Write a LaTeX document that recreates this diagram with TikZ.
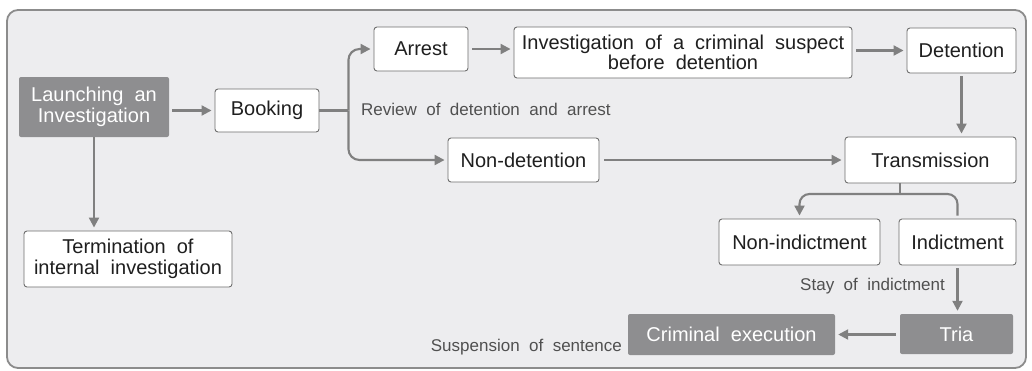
\documentclass[tikz,border=0pt]{standalone}
\usepackage{fontspec}
\setmainfont[WordSpace=2]{Liberation Sans}
\usetikzlibrary{arrows.meta}
\definecolor{framefill}{HTML}{EDEDEF}
\definecolor{framedraw}{HTML}{8C8C8C}
\definecolor{darkbox}{HTML}{8E8E90}
\definecolor{linegray}{HTML}{808080}
\definecolor{boxborder}{HTML}{6E6E6E}
\definecolor{labelgray}{HTML}{505050}
\tikzset{
  wbox/.style={draw=boxborder, line width=0.9pt, fill=white, rounded corners=3pt, align=center, inner sep=0pt, text=black!88,
    font=\fontsize{20}{20.5}\selectfont},
  dbox/.style={fill=darkbox, rounded corners=2pt, align=center, inner sep=0pt, text=white,
    font=\fontsize{20}{21}\selectfont},
  conn/.style={draw=linegray, line width=2.1pt},
  arr/.style={conn, -{Triangle[length=10pt,width=10pt]}, shorten >=3pt},
  lbl/.style={text=labelgray, inner sep=0pt, font=\fontsize{17}{19}\selectfont}
}
\begin{document}
\begin{tikzpicture}[x=1pt,y=-1pt]
\useasboundingbox (0,0) rectangle (1032,370);
\draw[draw=framedraw, fill=framefill, line width=1.8pt, rounded corners=11pt] (7,10) rectangle (1026,368);

\node[dbox, minimum width=150pt, minimum height=60pt] (launch) at (94,107) {Launching an\\Investigation};
\node[wbox, minimum width=104pt, minimum height=43pt] (booking) at (267,110.5) {Booking};
\node[wbox, minimum width=94pt, minimum height=44pt] (arrest) at (421,49) {Arrest};
\node[wbox, minimum width=338pt, minimum height=51pt] (invest) at (683,52.5) {Investigation of a criminal suspect\\before detention};
\node[wbox, minimum width=109pt, minimum height=45pt] (detention) at (961.5,50.5) {Detention};
\node[wbox, minimum width=151pt, minimum height=44pt] (nondet) at (523.5,160) {Non-detention};
\node[wbox, minimum width=171pt, minimum height=46pt] (trans) at (930.5,160) {Transmission};
\node[wbox, minimum width=161pt, minimum height=46pt] (nonind) at (799.5,242) {Non-indictment};
\node[wbox, minimum width=117pt, minimum height=46pt] (indict) at (957.5,242) {Indictment};
\node[dbox, minimum width=113pt, minimum height=40pt] (tria) at (956.5,334) {Tria};
\node[dbox, minimum width=207pt, minimum height=41pt] (crimexec) at (731.5,334.5) {Criminal execution};
\node[wbox, minimum width=208pt, minimum height=56pt] (term) at (128,259) {Termination of\\internal investigation};

\node[lbl, anchor=west] (review) at (361,109) {Review of detention and arrest};
\node[lbl, anchor=east] (stay) at (945,286) {Stay of indictment};
\node[lbl, anchor=base east] (susp) at (622,351) {Suspension of sentence};

% connectors
\draw[arr, shorten <=3pt] (launch.east |- booking.west) -- (booking.west);
\draw[conn] (booking.east) -- ++(29,0) coordinate (split);
\draw[arr, rounded corners=11pt] (split) |- (arrest.west);
\draw[arr, rounded corners=11pt] (split) |- (nondet.west);
\draw[arr, shorten <=4pt] (arrest.east) -- (invest.west |- arrest.east);
\draw[arr, shorten <=4pt] (invest.east |- detention.west) -- (detention.west);
\draw[arr, shorten <=3pt] (detention.south) -- (detention.south |- trans.north);
\draw[arr, shorten <=5pt] (nondet.east) -- (trans.west);
\coordinate (stem) at (900,194);
\draw[conn] (trans.south -| stem) -- (stem);
\draw[arr, rounded corners=10pt] (stem) -| (nonind.north);
\draw[conn, rounded corners=10pt, shorten >=3pt] (stem) -| (indict.north);
\draw[arr, shorten <=3pt] (indict.south) -- (indict.south |- tria.north);
\draw[arr, shorten <=4pt] (tria.west |- crimexec.east) -- (crimexec.east);
\draw[arr] (launch.south) -- (launch.south |- term.north);
\end{tikzpicture}
\end{document}
